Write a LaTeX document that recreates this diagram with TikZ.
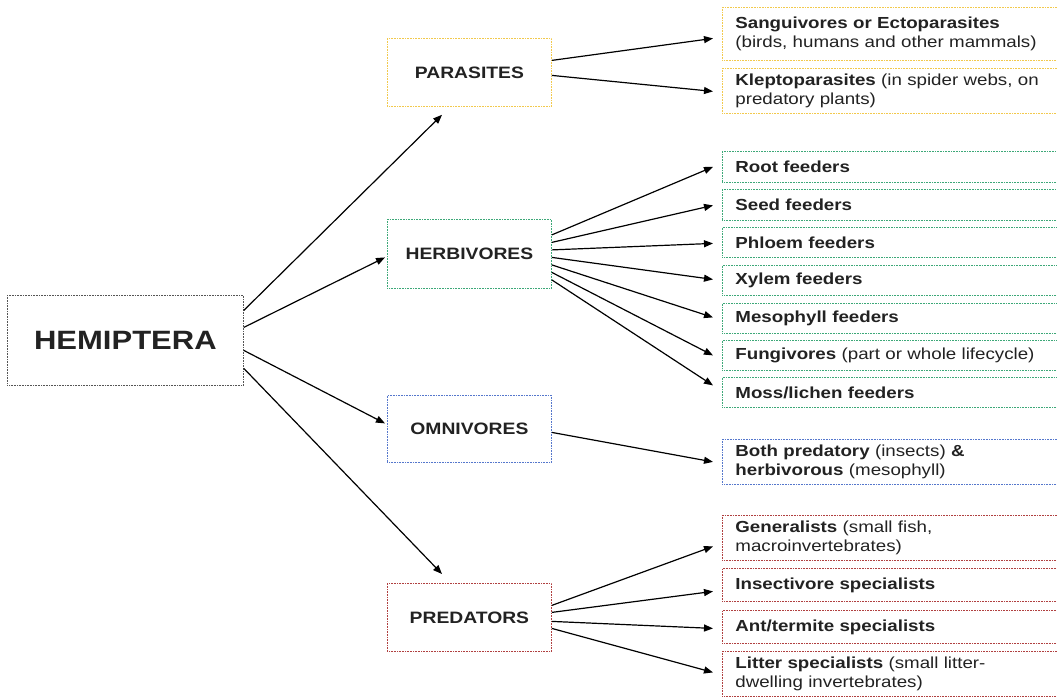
\documentclass[tikz,border=0pt]{standalone}
\usepackage{fontspec}
\setmainfont{Liberation Sans}[FakeStretch=1.17]
\usetikzlibrary{arrows.meta,calc}
\definecolor{txt}{HTML}{222222}
\definecolor{cyel}{HTML}{F2C94C}
\definecolor{cgrn}{HTML}{3DA878}
\definecolor{cblu}{HTML}{5577CC}
\definecolor{cred}{HTML}{B04040}
\definecolor{cgry}{HTML}{555555}
\begin{document}
\begin{tikzpicture}[x=1pt,y=-1pt,
  box/.style={draw, line width=0.8pt, dash pattern=on 0.8pt off 0.8pt, anchor=north west, inner sep=0pt, text=txt},
  cat/.style={box, minimum width=164pt, align=center, font=\bfseries\fontsize{16.5}{19}\selectfont},
  leaf/.style={box, text width=330pt, inner xsep=13pt, align=left, font=\fontsize{16}{19}\selectfont},
  arr/.style={line width=1.2pt, -{Triangle[length=9pt,width=7pt]}}
]
\useasboundingbox (0,0) rectangle (1057,698);
\fill[white] (0,0) rectangle (1057,698);

% root
\node[box, draw=cgry, minimum width=236pt, minimum height=90pt, font=\bfseries\fontsize{26.5}{30}\selectfont] (hem) at (7,295) {HEMIPTERA};

% categories
\node[cat, draw=cyel, minimum height=68pt] (par) at (387,38) {PARASITES};
\node[cat, draw=cgrn, minimum height=69pt] (herb) at (387,219) {HERBIVORES};
\node[cat, draw=cblu, minimum height=67pt] (omni) at (387,395) {OMNIVORES};
\node[cat, draw=cred, minimum height=68pt] (pred) at (387,583) {PREDATORS};

% leaves
\node[leaf, draw=cyel, minimum height=53pt] (sang) at (722,7) {\textbf{Sanguivores or Ectoparasites}\\(birds, humans and other mammals)};
\node[leaf, draw=cyel, minimum height=45pt] (klep) at (722,68) {\textbf{Kleptoparasites} (in spider webs, on\\predatory plants)};

\node[leaf, draw=cgrn, minimum height=31pt] (root) at (722,151) {\textbf{Root feeders}};
\node[leaf, draw=cgrn, minimum height=31pt] (seed) at (722,189) {\textbf{Seed feeders}};
\node[leaf, draw=cgrn, minimum height=30pt] (phl) at (722,227) {\textbf{Phloem feeders}};
\node[leaf, draw=cgrn, minimum height=30pt] (xyl) at (722,265) {\textbf{Xylem feeders}};
\node[leaf, draw=cgrn, minimum height=30pt] (meso) at (722,303) {\textbf{Mesophyll feeders}};
\node[leaf, draw=cgrn, minimum height=30pt] (fung) at (722,340) {\textbf{Fungivores} (part or whole lifecycle)};
\node[leaf, draw=cgrn, minimum height=30pt] (moss) at (722,377) {\textbf{Moss/lichen feeders}};

\node[leaf, draw=cblu, minimum height=45pt] (both) at (722,439) {\textbf{Both predatory} (insects) \textbf{\&}\\\textbf{herbivorous} (mesophyll)};

\node[leaf, draw=cred, minimum height=45pt] (gen) at (722,515) {\textbf{Generalists} (small fish,\\macroinvertebrates)};
\node[leaf, draw=cred, minimum height=33pt] (ins) at (722,568) {\textbf{Insectivore specialists}};
\node[leaf, draw=cred, minimum height=33pt] (ant) at (722,610) {\textbf{Ant/termite specialists}};
\node[leaf, draw=cred, minimum height=45pt] (lit) at (722,651) {\textbf{Litter specialists} (small litter-\\dwelling invertebrates)};

% connectors from HEMIPTERA
\draw[arr] ($(hem.east)+(0,-30)$) -- ($(par.south west)+(55,8)$);
\draw[arr] ($(hem.east)+(0,-13)$) -- ($(herb.west)+(-2,3.5)$);
\draw[arr] ($(hem.east)+(0,10)$) -- ($(omni.west)+(-2,-5.5)$);
\draw[arr] ($(hem.east)+(0,28)$) -- ($(pred.north west)+(55,-9)$);

% parasites
\draw[arr] ($(par.east)+(0,-12)$) -- ($(sang.west)+(-9,4.5)$);
\draw[arr] ($(par.east)+(0,3)$) -- ($(klep.west)+(-9,0.5)$);

% herbivores
\draw[arr] ($(herb.east)+(0,-19)$) -- ($(root.west)+(-9,0)$);
\draw[arr] ($(herb.east)+(0,-11.5)$) -- ($(seed.west)+(-9,0.5)$);
\draw[arr] ($(herb.east)+(0,-4)$) -- ($(phl.west)+(-9,1)$);
\draw[arr] ($(herb.east)+(0,3.5)$) -- ($(xyl.west)+(-9,-1)$);
\draw[arr] ($(herb.east)+(0,11)$) -- ($(meso.west)+(-9,-1)$);
\draw[arr] ($(herb.east)+(0,18.5)$) -- ($(fung.west)+(-9,0)$);
\draw[arr] ($(herb.east)+(0,26)$) -- ($(moss.west)+(-9,-7)$);

% omnivores
\draw[arr] ($(omni.east)+(0,3.5)$) -- ($(both.west)+(-9,0)$);

% predators
\draw[arr] ($(pred.east)+(0,-12)$) -- ($(gen.west)+(-9,8.5)$);
\draw[arr] ($(pred.east)+(0,-5)$) -- ($(ins.west)+(-9,6.5)$);
\draw[arr] ($(pred.east)+(0,4)$) -- ($(ant.west)+(-9,1.5)$);
\draw[arr] ($(pred.east)+(0,11)$) -- ($(lit.west)+(-9,-1.5)$);
\end{tikzpicture}
\end{document}
